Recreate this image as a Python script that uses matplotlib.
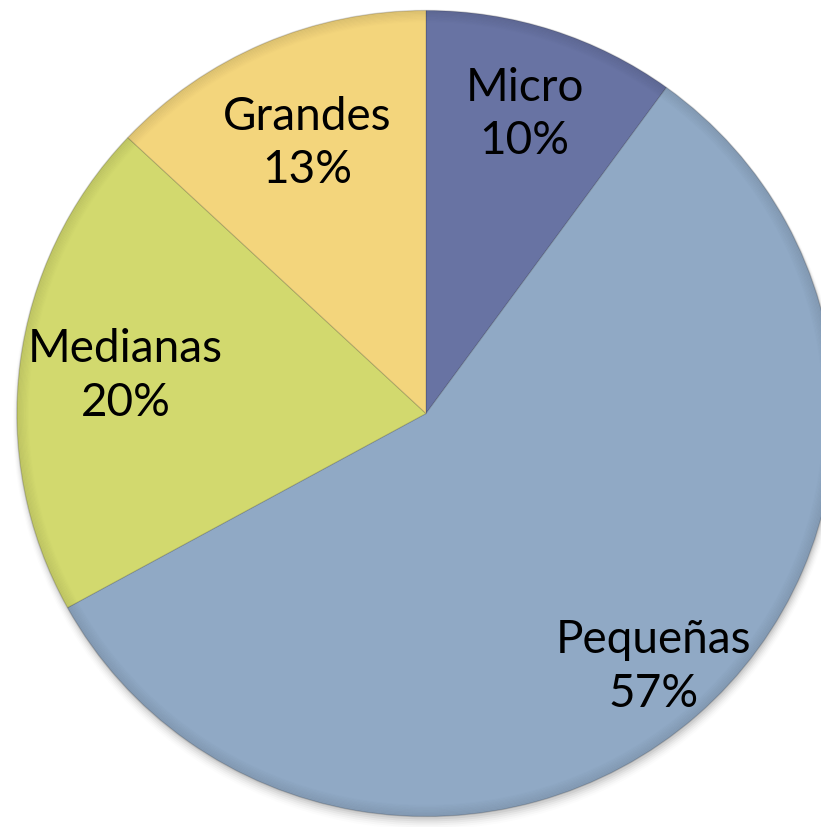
import numpy as np
import matplotlib
matplotlib.use("Agg")
import matplotlib.pyplot as plt

categories = ["Micro", "Pequeñas", "Medianas", "Grandes"]
values = [10, 57, 20, 13]
colors = ["#6873A3", "#90A9C5", "#D2D96E", "#F3D57C"]
label_dist = [0.78, 0.84, 0.74, 0.73]

W, H = 821, 827
sx = 1.015  # slight horizontal stretch of the pie
fig = plt.figure(figsize=(W / 100, H / 100), dpi=100)
ax = fig.add_axes([0, 0, 1, 1])

cx, cy, R = 426 / sx, H - 413.5, 403

# soft shadow
for i, a in enumerate(np.linspace(0.05, 0.01, 6)):
    circ = plt.Circle((cx + 1, cy - 3 - i), R + i, color="black", alpha=a, lw=0, zorder=0)
    ax.add_patch(circ)

wedges, _ = ax.pie(values, colors=colors, startangle=90, counterclock=False,
                   center=(cx, cy), radius=R, frame=True,
                   wedgeprops=dict(linewidth=0.8, edgecolor=(0, 0, 0, 0.15)))
ax.set_aspect("auto")
ax.set_xlim(0, W / sx)
ax.set_ylim(0, H)
ax.axis("off")

# rim shading
for i in range(10):
    ring = plt.Circle((cx, cy), R - i * 1.2, fill=False, lw=1.4,
                      edgecolor="black", alpha=0.06 * (1 - i / 10), zorder=3)
    ax.add_patch(ring)

for w, name, v, d in zip(wedges, categories, values, label_dist):
    ang = np.deg2rad((w.theta1 + w.theta2) / 2)
    x = cx + d * R * np.cos(ang)
    y = cy + d * R * np.sin(ang)
    ax.text(x, y, f"{name}\n{v}%", ha="center", va="center", fontsize=33,
            family=["Lato", "DejaVu Sans"], color="black", linespacing=1.35, zorder=5)

fig.savefig("out.png", dpi=100)
